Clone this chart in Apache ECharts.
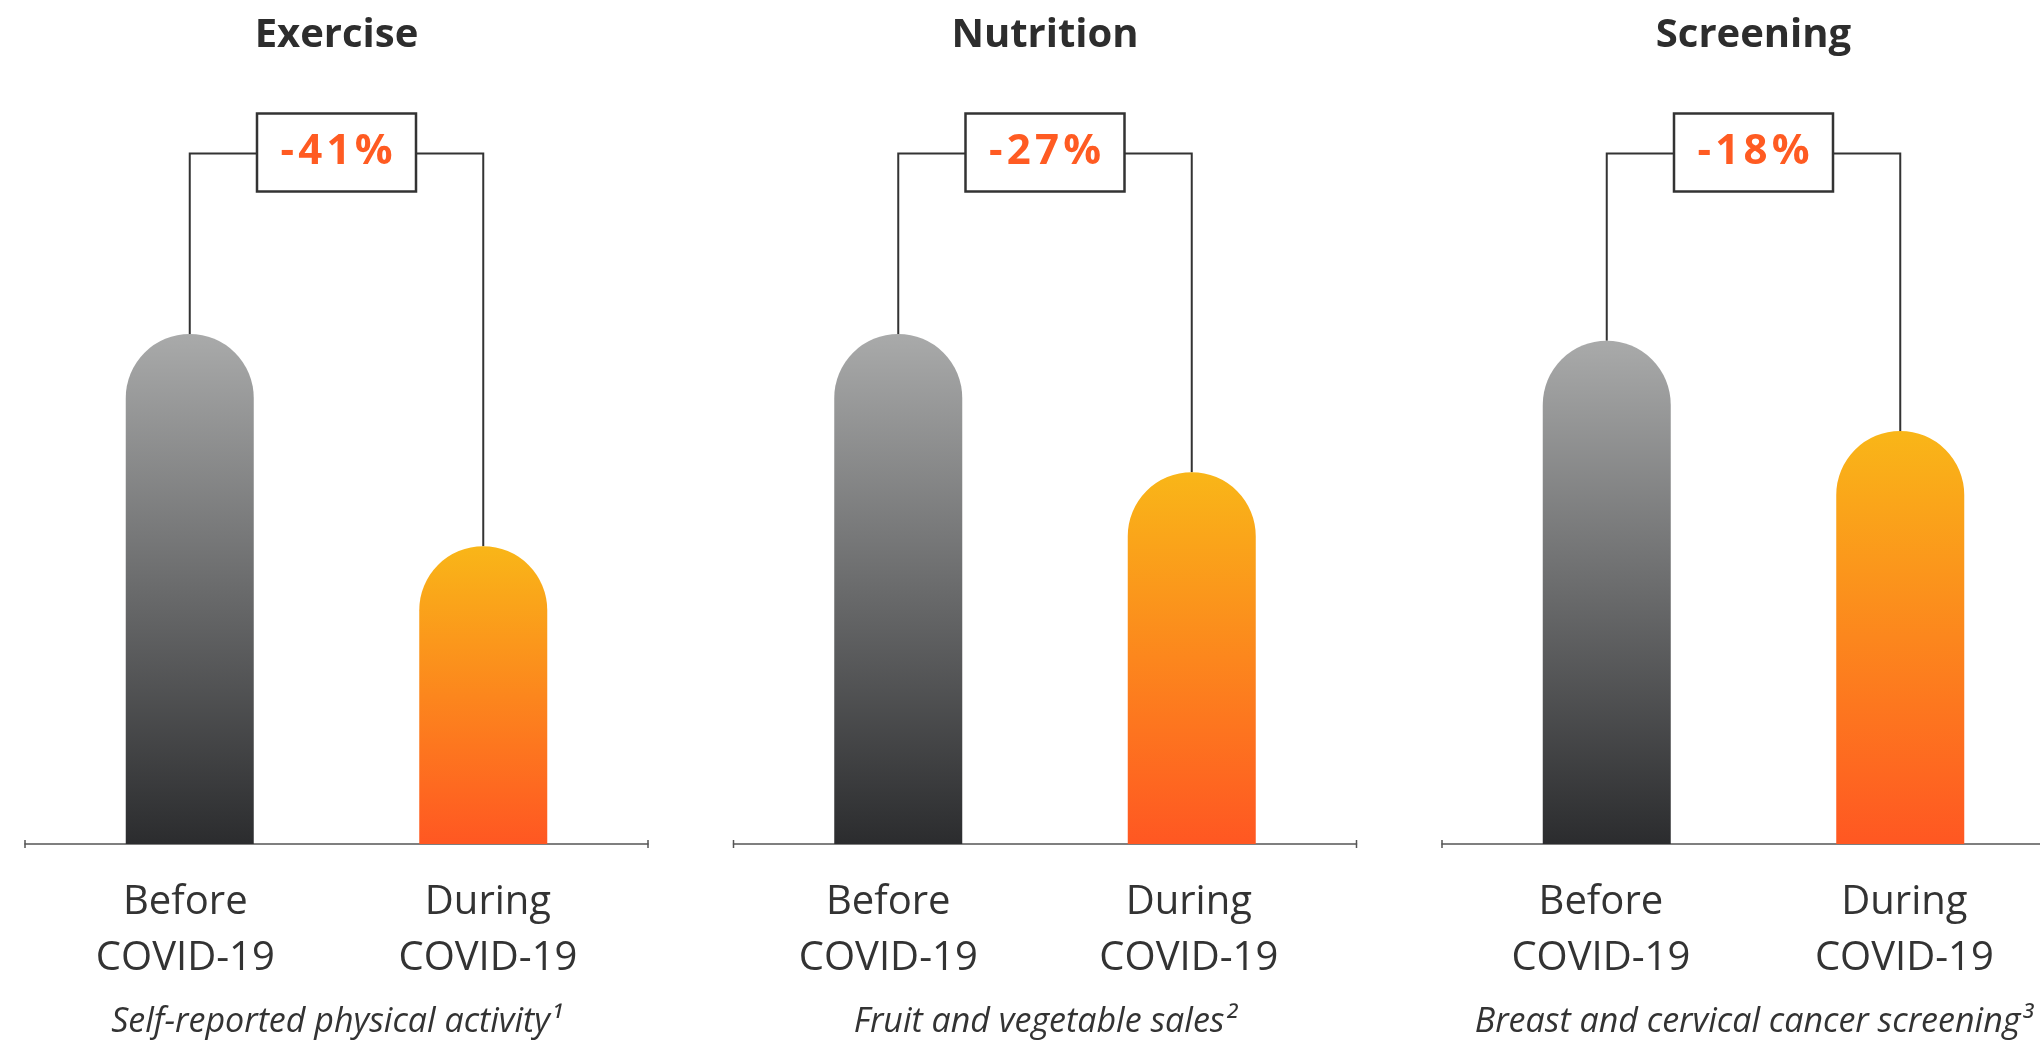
<!DOCTYPE html>
<html>
<head>
<meta charset="utf-8">
<script src="https://cdn.jsdelivr.net/npm/echarts@6/dist/echarts.min.js"></script>
<style>
html,body{margin:0;padding:0;background:#fff;}
#chart{width:2040px;height:1043px;}
</style>
</head>
<body>
<div id="chart"></div>
<script>
const panelTitles = ['Exercise', 'Nutrition', 'Screening'];
const categories = ['Before\nCOVID-19', 'During\nCOVID-19'];
const beforeValues = [100, 100, 98.7];
const duringValues = [58.4, 72.9, 81.0];
const changeLabels = ['-41%', '-27%', '-18%'];
const subtitles = ['Self-reported physical activity\u00B9', 'Fruit and vegetable sales\u00B2', 'Breast and cervical cancer screening\u00B3'];
const bracketLevels = [135.4, 135.4, 135.4];

const FONT = '"Open Sans", "Noto Sans", sans-serif';
const W = 2040;
const firstMid = 336.5, panelStep = 708.5, halfAxis = 311.5;
const unitPx = 293.5;
// slight per-panel placement of the category labels (axis units)
const labelPlacement = [[-0.015, 1.016], [-0.034, 0.99], [-0.02, 1.014]];

const grayGrad = new echarts.graphic.LinearGradient(0, 0, 0, 1, [
  {offset: 0, color: '#a9aaaa'}, {offset: 1, color: '#2b2c2e'}]);
const orangeGrad = new echarts.graphic.LinearGradient(0, 0, 0, 1, [
  {offset: 0, color: '#f9b618'}, {offset: 1, color: '#ff5722'}]);

const grids = [], xAxes = [], yAxes = [], series = [], graphics = [];
panelTitles.forEach((t, p) => {
  const mid = firstMid + panelStep * p;
  const leftEdge = mid - halfAxis;
  const fullRight = mid + halfAxis;
  const rightEdge = Math.min(fullRight, W);
  const clipped = fullRight > W;
  const xMin = 0.5 - (mid - leftEdge) / unitPx;
  const xMax = 0.5 + (rightEdge - mid) / unitPx;
  grids.push({left: leftEdge, width: rightEdge - leftEdge, bottom: 199, height: 765, containLabel: false});
  xAxes.push({
    type: 'value', gridIndex: p, min: xMin, max: xMax,
    splitLine: {show: false},
    axisLine: {show: true, lineStyle: {color: '#555', width: 1.5},
      symbol: ['rect', clipped ? 'none' : 'rect'], symbolSize: [8, 1.5]},
    axisTick: {show: false},
    axisLabel: {
      show: true, customValues: labelPlacement[p], margin: 31,
      formatter: v => categories[Math.round(v)] || '',
      fontFamily: FONT, fontSize: 40, lineHeight: 56, color: '#333'
    }
  });
  yAxes.push({type: 'value', gridIndex: p, min: 0, max: 150, show: false, splitLine: {show: false}});
  series.push({
    type: 'bar', xAxisIndex: p, yAxisIndex: p, barWidth: 128,
    data: [
      {value: [0, beforeValues[p]], itemStyle: {color: grayGrad, borderRadius: [64, 64, 0, 0]}},
      {value: [1, duringValues[p]], itemStyle: {color: orangeGrad, borderRadius: [64, 64, 0, 0]}}
    ],
    z: 3
  });
  series.push({
    type: 'custom', xAxisIndex: p, yAxisIndex: p, clip: false, z: 2,
    data: [[beforeValues[p], duringValues[p], bracketLevels[p]]],
    renderItem: (params, api) => {
      const p0 = api.coord([0, api.value(0)]);
      const p1 = api.coord([1, api.value(1)]);
      const yl = api.coord([0, api.value(2)])[1];
      const cx = (p0[0] + p1[0]) / 2;
      const bw = 159, bh = 78;
      const ls = {stroke: '#333', lineWidth: 2, fill: null};
      return {
        type: 'group',
        children: [
          {type: 'polyline', shape: {points: [[p0[0], p0[1]], [p0[0], yl], [cx - bw / 2, yl]]}, style: ls},
          {type: 'polyline', shape: {points: [[cx + bw / 2, yl], [p1[0], yl], [p1[0], p1[1]]]}, style: ls},
          {type: 'rect', shape: {x: cx - bw / 2, y: yl - bh / 2 - 1, width: bw, height: bh},
            style: {fill: '#fff', stroke: '#333', lineWidth: 2.5}},
          {type: 'text', x: cx, y: yl - 1,
            style: {text: changeLabels[p].split('').join('\u200A'), fill: '#ff5b22',
              font: 'bold 42px ' + FONT, textAlign: 'center', textVerticalAlign: 'middle'}}
        ]
      };
    }
  });
  graphics.push({type: 'text', x: mid, y: 36, style: {text: t, fill: '#2d2d2d',
    font: 'bold 40px ' + FONT, textAlign: 'center', textVerticalAlign: 'middle'}});
  graphics.push({type: 'text', x: mid, y: 1022, style: {text: subtitles[p], fill: '#333',
    font: 'italic 34px ' + FONT, textAlign: 'center', textVerticalAlign: 'middle'}});
});

const chart = echarts.init(document.getElementById('chart'));
chart.setOption({
  animation: false,
  backgroundColor: '#fff',
  grid: grids, xAxis: xAxes, yAxis: yAxes, series: series, graphic: graphics
});
</script>
</body>
</html>
